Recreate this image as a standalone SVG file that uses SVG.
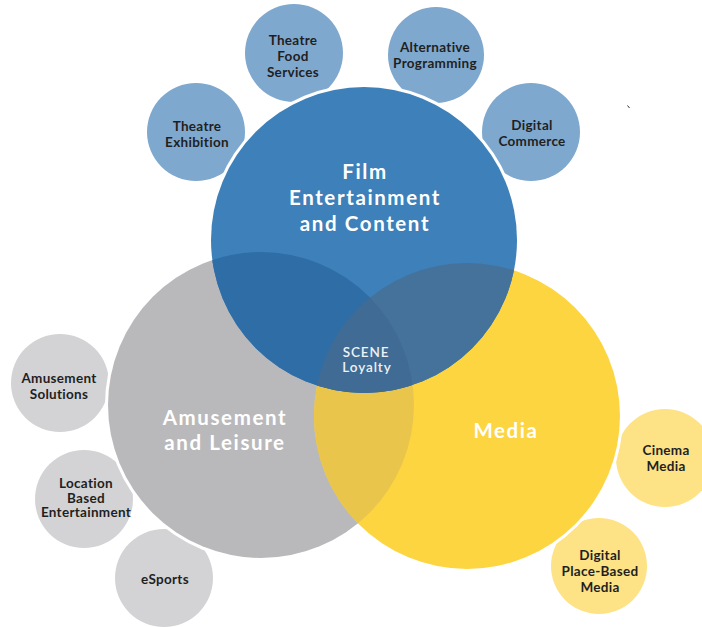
<svg xmlns="http://www.w3.org/2000/svg" width="702" height="627" viewBox="0 0 702 627">
<style>
.sb{fill:#7fa8ce}
.sg{fill:#d3d3d5}
.sy{fill:#fde286}
.ring{fill:#ffffff}
.lbl{font-family:Lato,"Noto Sans","Liberation Sans",sans-serif;font-weight:700;font-size:13.5px;fill:#1f1f1f;text-anchor:middle;letter-spacing:0.3px}
.big{font-family:Lato,"Noto Sans","Liberation Sans",sans-serif;font-weight:700;font-size:20.5px;fill:#ffffff;text-anchor:middle;letter-spacing:1.6px}
.scene{font-family:Lato,"Noto Sans","Liberation Sans",sans-serif;font-weight:600;font-size:13.5px;fill:#eef2f6;text-anchor:middle;letter-spacing:0.9px}
</style>
<defs>
<clipPath id="cB"><circle cx="364" cy="240" r="153"/></clipPath>
<clipPath id="cG"><circle cx="261" cy="405" r="153"/></clipPath>
</defs>
<rect width="702" height="627" fill="#ffffff"/>

<g id="theatre-exhibition"><circle class="sb" cx="196" cy="132" r="49"/><text class="lbl" x="197" y="131">Theatre</text><text class="lbl" x="197" y="147">Exhibition</text></g>
<g id="theatre-food-services"><circle class="sb" cx="294" cy="53" r="49"/><text class="lbl" x="293" y="45">Theatre</text><text class="lbl" x="293" y="61">Food</text><text class="lbl" x="293" y="77">Services</text></g>
<g id="alternative-programming"><circle class="sb" cx="436" cy="55" r="48"/><text class="lbl" x="435" y="52">Alternative</text><text class="lbl" x="435" y="68">Programming</text></g>
<g id="digital-commerce"><circle class="sb" cx="531" cy="132" r="49"/><text class="lbl" x="532" y="130">Digital</text><text class="lbl" x="532" y="146">Commerce</text></g>
<g id="amusement-solutions"><circle class="sg" cx="60" cy="383" r="49"/><text class="lbl" x="59" y="383">Amusement</text><text class="lbl" x="59" y="399">Solutions</text></g>
<g id="location-based-entertainment"><circle class="sg" cx="84" cy="499" r="49"/><text class="lbl" x="86" y="488">Location</text><text class="lbl" x="86" y="502.5">Based</text><text class="lbl" x="86" y="517">Entertainment</text></g>
<g id="esports"><circle class="sg" cx="164" cy="578" r="49"/><text class="lbl" x="165" y="584">eSports</text></g>
<g id="cinema-media"><circle class="sy" cx="665" cy="458" r="49"/><text class="lbl" x="666" y="455">Cinema</text><text class="lbl" x="666" y="471">Media</text></g>
<g id="digital-place-based-media"><circle class="sy" cx="599" cy="566" r="48"/><text class="lbl" x="600" y="560">Digital</text><text class="lbl" x="600" y="576">Place-Based</text><text class="lbl" x="600" y="591.5">Media</text></g>

<g id="rings">
<circle class="ring" cx="364" cy="240" r="156"/>
<circle class="ring" cx="261" cy="405" r="156"/>
<circle class="ring" cx="467" cy="416" r="156"/>
</g>

<g id="amusement-and-leisure"><circle cx="261" cy="405" r="153" fill="#b9b9bc"/></g>
<g id="media"><circle cx="467" cy="416" r="153" fill="#fdd540"/></g>
<g id="film-entertainment"><circle cx="364" cy="240" r="153" fill="#3e80b9"/></g>

<g id="overlaps">
<circle cx="467" cy="416" r="153" fill="#e9c54c" clip-path="url(#cG)"/>
<circle cx="261" cy="405" r="153" fill="#2e6da6" clip-path="url(#cB)"/>
<circle cx="467" cy="416" r="153" fill="#45729b" clip-path="url(#cB)"/>
<g clip-path="url(#cG)"><circle cx="467" cy="416" r="153" fill="#406b94" clip-path="url(#cB)"/></g>
</g>

<g id="labels">
<text class="big" x="365" y="179">Film</text>
<text class="big" x="365" y="205">Entertainment</text>
<text class="big" x="365" y="231">and Content</text>
<text class="big" x="225" y="425">Amusement</text>
<text class="big" x="225" y="450">and Leisure</text>
<text class="big" x="506" y="438">Media</text>
<text class="scene" x="366" y="357">SCENE</text>
<text class="scene" x="367" y="372">Loyalty</text>
</g>

<line x1="627.5" y1="105.5" x2="629.5" y2="108" stroke="#333333" stroke-width="1"/>
</svg>
